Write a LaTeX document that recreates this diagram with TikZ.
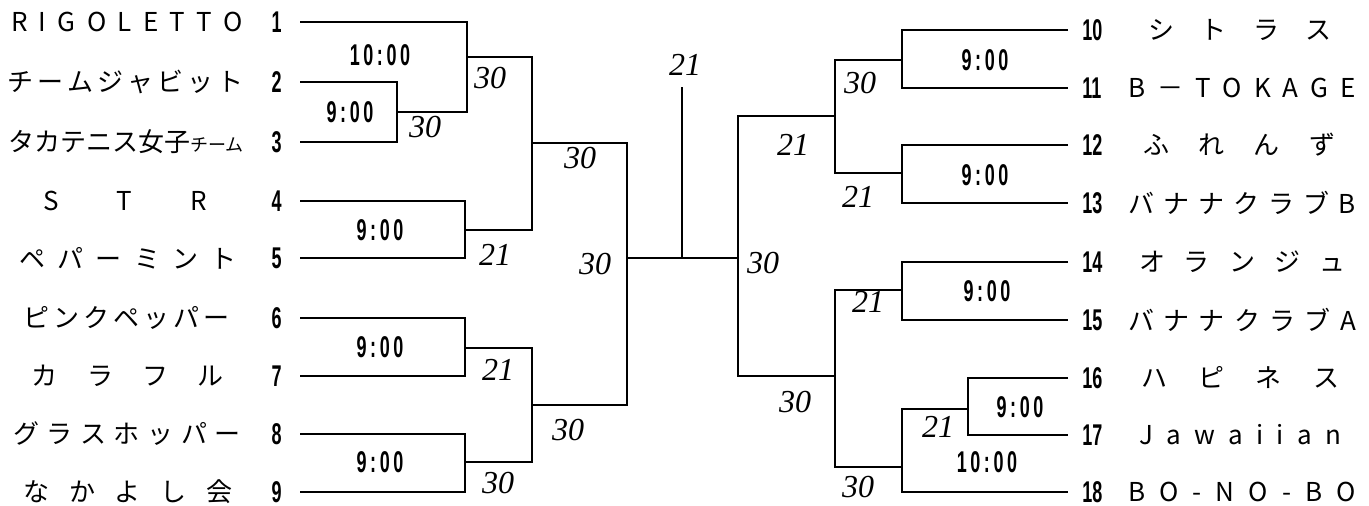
\documentclass[tikz,border=0pt]{standalone}
\usepackage{fontspec}
\setmainfont{Liberation Sans}
\newfontfamily\jpfont{Noto Sans CJK JP}
\newfontfamily\numfont[FakeStretch=0.6]{Liberation Sans}
\newfontfamily\clockfont[FakeStretch=0.6,LetterSpace=12]{Liberation Sans}
\newfontfamily\handfont{Liberation Serif}
\usetikzlibrary{positioning,calc}

% spread a name over a fixed width
\newcommand{\spreadname}[2]{\makebox[#1][s]{#2}}

\begin{document}
\begin{tikzpicture}[
    x=0.5pt, y=-0.5pt,
    bar/.style={line width=1pt},
    team/.style={font=\jpfont\fontsize{13}{13}\selectfont, inner sep=0pt},
    num/.style={font=\numfont\bfseries\fontsize{15}{15}\selectfont, inner ysep=0pt},
    numL/.style={num, anchor=east, inner xsep=9pt},
    numR/.style={num, anchor=west, inner xsep=7pt},
    clock/.style={font=\clockfont\bfseries\fontsize{15}{15}\selectfont, inner sep=0pt},
    score/.style={font=\handfont\itshape\fontsize{16}{16}\selectfont, inner sep=0pt}
]
\useasboundingbox (0,0) rectangle (1369,506);

% seed numbers
\foreach \i/\y in {1/22,2/82,3/142,4/201,5/258,6/318,7/376,8/434,9/492}
    \node[numL] (n\i) at (300,\y) {\i};
\foreach \i/\y in {10/30,11/88,12/145,13/203,14/262,15/320,16/378,17/435,18/492}
    \node[numR] (n\i) at (1068,\y) {\i};

% team names
\node[team] (a1) at (127,22) {\spreadname{116pt}{R I G O L E T T O}};
\node[team] (a2) at (126,82) {\spreadname{118pt}{チ ー ム ジ ャ ビ ッ ト}};
\node[team] (a3) at (126,142) {タカテニス女子{\fontsize{9}{9}\selectfont チーム}};
\node[team] (a4) at (125,201) {\spreadname{82pt}{S T R}};
\node[team] (a5) at (128,258) {\spreadname{109pt}{ペ パ ー ミ ン ト}};
\node[team] (a6) at (125,318) {\spreadname{101pt}{ピ ン ク ペ ッ パ ー}};
\node[team] (a7) at (128,376) {\spreadname{96pt}{カ ラ フ ル}};
\node[team] (a8) at (127,434) {\spreadname{114pt}{グ ラ ス ホ ッ パ ー}};
\node[team] (a9) at (128,492) {\spreadname{104pt}{な か よ し 会}};
\node[team] (a10) at (1240,30) {\spreadname{92pt}{シ ト ラ ス}};
\node[team] (a11) at (1242,88) {\spreadname{114pt}{B － T O K A G E}};
\node[team] (a12) at (1239,145) {\spreadname{96pt}{ふ れ ん ず}};
\node[team] (a13) at (1242,203) {\spreadname{114pt}{バ ナ ナ ク ラ ブ B}};
\node[team] (a14) at (1242,262) {\spreadname{103pt}{オ ラ ン ジ ュ}};
\node[team] (a15) at (1242,320) {\spreadname{114pt}{バ ナ ナ ク ラ ブ A}};
\node[team] (a16) at (1240,378) {\spreadname{99pt}{ハ ピ ネ ス}};
\node[team] (a17) at (1240,435) {\spreadname{101pt}{J a w a i i a n}};
\node[team] (a18) at (1242,492) {\spreadname{114pt}{B O - N O - B O}};

% match points
\coordinate (m23) at (397,112);
\coordinate (m1) at (467,57);
\coordinate (m45) at (465,230);
\coordinate (m67) at (465,348);
\coordinate (m89) at (465,462);
\coordinate (L1) at (532,143);
\coordinate (L2) at (532,405);
\coordinate (C) at (627,258);
\coordinate (R) at (738,258);
\coordinate (W) at (682,87);
\coordinate (k1) at (835,116);
\coordinate (k2) at (835,376);
\coordinate (m1011) at (902,60);
\coordinate (m1213) at (902,173);
\coordinate (m1415) at (902,290);
\coordinate (m1617) at (968,409);
\coordinate (m18) at (902,467);

% left half
\draw[bar] (n2.east) -| (m23) |- (n3.east);
\draw[bar] (n1.east) -| (m23 -| m1) -- (m23);
\draw[bar] (n4.east) -| (m45) |- (n5.east);
\draw[bar] (m1) -| (L1) |- (m45);
\draw[bar] (n6.east) -| (m67) |- (n7.east);
\draw[bar] (n8.east) -| (m89) |- (n9.east);
\draw[bar] (m67) -| (L2) |- (m89);
\draw[bar] (L1) -| (C) |- (L2);
% final
\draw[bar] (C) -- (R);
\draw[bar] (C -| W) -- (W);
% right half
\draw[bar] (k1) -| (R) |- (k2);
\draw[bar] (m1011) -| (k1) |- (m1213);
\draw[bar] (n10.west) -| (m1011) |- (n11.west);
\draw[bar] (n12.west) -| (m1213) |- (n13.west);
\draw[bar] (m1415) -| (k2) |- (m18);
\draw[bar] (n14.west) -| (m1415) |- (n15.west);
\draw[bar] (n16.west) -| (m1617) |- (n17.west);
\draw[bar] (m1617) -| (m18) |- (n18.west);

% start times
\node[clock] (c1) at (380,55) {10:00};
\node[clock] (c23) at (350,112) {9:00};
\node[clock] (c45) at (380,230) {9:00};
\node[clock] (c67) at (380,347) {9:00};
\node[clock] (c89) at (380,462) {9:00};
\node[clock] (c1011) at (985,60) {9:00};
\node[clock] (c1213) at (985,175) {9:00};
\node[clock] (c1415) at (987,291) {9:00};
\node[clock] (c1617) at (1020,407) {9:00};
\node[clock] (c18) at (987,462) {10:00};

% scores
\node[score] (s23) at (425,127) {30};
\node[score] (s1) at (490,78) {30};
\node[score] (s45) at (495,255) {21};
\node[score] (sL1) at (580,158) {30};
\node[score] (sW) at (685,65) {21};
\node[score] (sC) at (595,264) {30};
\node[score] (sR) at (763,263) {30};
\node[score] (s67) at (498,370) {21};
\node[score] (sL2) at (568,430) {30};
\node[score] (s89) at (498,483) {30};
\node[score] (sk1) at (793,145) {21};
\node[score] (s1011) at (860,83) {30};
\node[score] (s1213) at (858,197) {21};
\node[score] (sk2) at (795,402) {30};
\node[score] (s1415) at (868,302) {21};
\node[score] (s18) at (858,487) {30};
\node[score] (s1617) at (938,427) {21};
\end{tikzpicture}
\end{document}
